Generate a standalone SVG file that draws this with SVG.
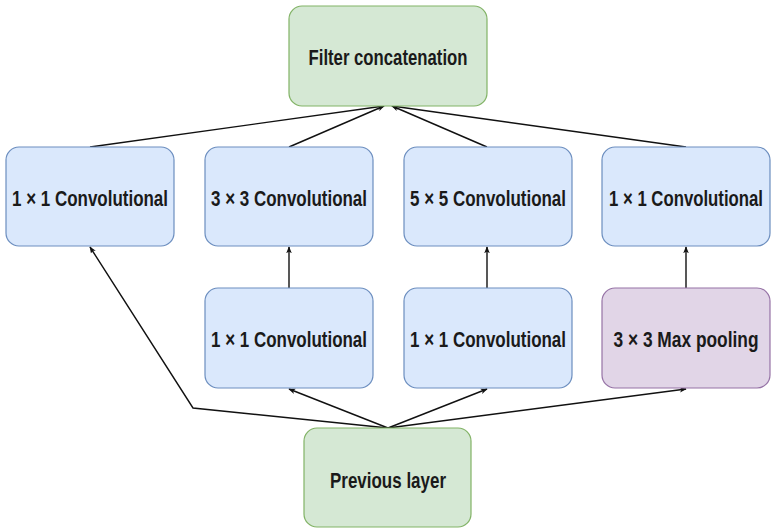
<svg xmlns="http://www.w3.org/2000/svg" width="772" height="529" viewBox="0 0 772 529">
<style>
.blue{fill:#dae8fc;stroke:#6c8ebf;stroke-width:1.2}
.green{fill:#d5e8d4;stroke:#82b366;stroke-width:1.2}
.purple{fill:#e1d5e7;stroke:#9673a6;stroke-width:1.2}
text{font-family:"Liberation Sans Narrow","Liberation Sans",Arial,sans-serif;font-weight:bold;font-size:17px;fill:#1a1a1a;text-anchor:middle}
.edge{fill:none;stroke:#111;stroke-width:1.4}
</style>
<defs>
<marker id="arr" viewBox="0 0 10 10" refX="9" refY="5" markerWidth="7" markerHeight="7" orient="auto" markerUnits="userSpaceOnUse">
<path d="M0,1 L10,5 L0,9 L2.5,5 Z" fill="#111"/>
</marker>
</defs>
<rect width="772" height="529" fill="#fff"/>
<g id="connectors">
<path class="edge" d="M90,147 L384,106" marker-end="url(#arr)"/>
<path class="edge" d="M289,147 L384,106" marker-end="url(#arr)"/>
<path class="edge" d="M487,147 L392,106" marker-end="url(#arr)"/>
<path class="edge" d="M686,147 L392,106" marker-end="url(#arr)"/>
<path class="edge" d="M289,288 L289,247" marker-end="url(#arr)"/>
<path class="edge" d="M487,288 L487,247" marker-end="url(#arr)"/>
<path class="edge" d="M686,288 L686,247" marker-end="url(#arr)"/>
<path class="edge" d="M388,428 L289,389" marker-end="url(#arr)"/>
<path class="edge" d="M388,428 L487,389" marker-end="url(#arr)"/>
<path class="edge" d="M388,428 L686,389" marker-end="url(#arr)"/>
<path class="edge" d="M388,428 L193,408 L90,247" marker-end="url(#arr)"/>
</g>
<g id="concat">
<rect class="green" x="289" y="6" width="198" height="100" rx="13"/>
<text transform="translate(388,65) scale(1,1.34)" textLength="159" lengthAdjust="spacingAndGlyphs">Filter concatenation</text>
</g>
<g id="conv1x1_a">
<rect class="blue" x="6" y="147" width="168" height="99" rx="13"/>
<text transform="translate(90,206) scale(1,1.34)" textLength="156" lengthAdjust="spacingAndGlyphs">1 × 1 Convolutional</text>
</g>
<g id="conv3x3">
<rect class="blue" x="205" y="147" width="168" height="99" rx="13"/>
<text transform="translate(289,206) scale(1,1.34)" textLength="156" lengthAdjust="spacingAndGlyphs">3 × 3 Convolutional</text>
</g>
<g id="conv5x5">
<rect class="blue" x="404" y="147" width="168" height="99" rx="13"/>
<text transform="translate(488,206) scale(1,1.34)" textLength="156" lengthAdjust="spacingAndGlyphs">5 × 5 Convolutional</text>
</g>
<g id="conv1x1_d">
<rect class="blue" x="602" y="147" width="168" height="99" rx="13"/>
<text transform="translate(686,206) scale(1,1.34)" textLength="154" lengthAdjust="spacingAndGlyphs">1 × 1 Convolutional</text>
</g>
<g id="conv1x1_b">
<rect class="blue" x="205" y="288" width="168" height="100" rx="13"/>
<text transform="translate(289,347) scale(1,1.34)" textLength="156" lengthAdjust="spacingAndGlyphs">1 × 1 Convolutional</text>
</g>
<g id="conv1x1_c">
<rect class="blue" x="404" y="288" width="168" height="100" rx="13"/>
<text transform="translate(488,347) scale(1,1.34)" textLength="156" lengthAdjust="spacingAndGlyphs">1 × 1 Convolutional</text>
</g>
<g id="maxpool">
<rect class="purple" x="602" y="288" width="168" height="100" rx="13"/>
<text transform="translate(686,347) scale(1,1.34)" textLength="145" lengthAdjust="spacingAndGlyphs">3 × 3 Max pooling</text>
</g>
<g id="previous">
<rect class="green" x="304" y="428" width="167" height="99" rx="13"/>
<text transform="translate(388,488) scale(1,1.34)" textLength="116" lengthAdjust="spacingAndGlyphs">Previous layer</text>
</g>
</svg>
